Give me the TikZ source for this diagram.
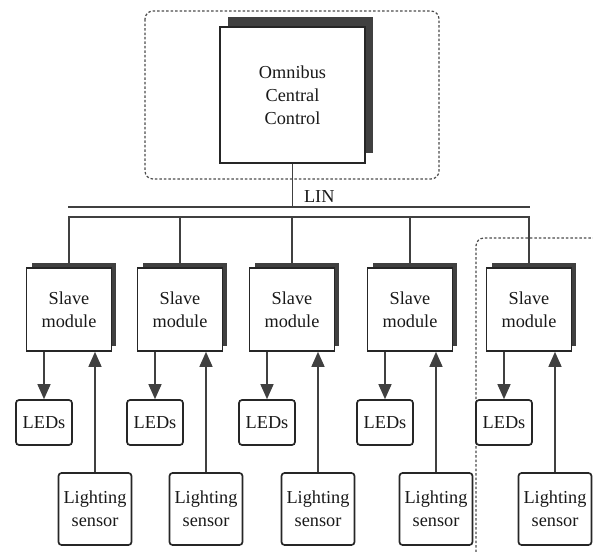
\documentclass[tikz,border=0pt]{standalone}
\usepackage{fontspec}
\setmainfont{Liberation Serif}
\usetikzlibrary{arrows.meta,shadows}

\begin{document}
\begin{tikzpicture}[
  x=0.02cm, y=-0.02cm,
  font=\rmfamily\fontsize{10.4}{13}\selectfont,
  box/.style={draw=black!85, line width=0.95pt, fill=white, text=black!90, align=center, inner sep=0pt},
  master/.style={box, minimum width=2.9cm, minimum height=2.72cm,
    drop shadow={shadow xshift=0.16cm, shadow yshift=0.2cm, fill=black!75, opacity=1}},
  slave/.style={box, minimum width=1.7cm, minimum height=1.66cm,
    drop shadow={shadow xshift=0.1cm, shadow yshift=0.1cm, fill=black!75, opacity=1}},
  leds/.style={box, rounded corners=0.06cm, minimum width=1.12cm, minimum height=0.9cm},
  sensor/.style={box, rounded corners=0.06cm, minimum width=1.46cm, minimum height=1.44cm},
  wire/.style={draw=black!75, line width=0.8pt},
  sig/.style={wire, -{Triangle[length=0.3cm, width=0.26cm]}},
  group/.style={draw=black!70, line width=0.7pt, dash pattern=on 0.05cm off 0.04cm, rounded corners=0.16cm}
]
\useasboundingbox (0,0) rectangle (593,552);
\draw[group] (145,11) rectangle (439,179);
\draw[group] (476,552) -- (476,238) -- (593,238);
\node[master] (occ) at (292.5,95) {Omnibus\\Central\\Control};
\coordinate (busa) at (68,207);
\coordinate (busb) at (530,207);
\coordinate (busc) at (68,217);
\coordinate (busd) at (530,217);
\draw[wire] (busa) -- (busb);
\draw[wire] (busc) -- (busd);
\draw[wire] (occ.south) -- (occ.south |- busa) node[pos=0.75, right=0.1cm, text=black!90]{LIN};
\foreach \i/\x in {1/69,2/180,3/292,4/410,5/529} {
  \node[slave] (sm\i) at (\x,309.5) {Slave\\module};
  \node[leds] (led\i) at (\x-25,422.5) {LEDs};
  \node[sensor] (ls\i) at (\x+26,509) {Lighting\\sensor};
  \draw[wire] (sm\i.north) -- (sm\i.north |- busc);
  \draw[sig] (led\i.north |- sm\i.south) -- (led\i.north);
  \draw[sig] (ls\i.north) -- (ls\i.north |- sm\i.south);
}
\end{tikzpicture}
\end{document}
